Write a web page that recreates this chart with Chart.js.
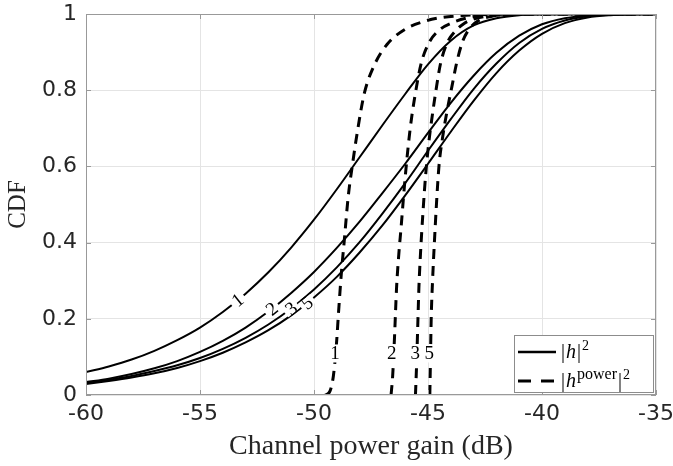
<!DOCTYPE html>
<html>
<head>
<meta charset="utf-8">
<script src="https://cdn.jsdelivr.net/npm/chart.js@4.4.0/dist/chart.umd.min.js"></script>
<style>
  body { margin: 0; background: #fff; }
</style>
</head>
<body>
<canvas id="myChart" width="673" height="466"></canvas>
<script>
// x grid for the solid |h|^2 curves (dB)
const gainDb = [-60, -59, -58, -57, -56, -55, -54, -53, -52, -51, -50, -49, -48,
  -47, -46, -45, -44, -43, -42, -41, -40, -39, -38, -37, -36, -35];

// solid curves
const solid1 = [0.060, 0.075, 0.093, 0.116, 0.144, 0.177, 0.218, 0.266, 0.322, 0.387,
  0.460, 0.540, 0.624, 0.708, 0.790, 0.868, 0.930, 0.970, 0.989, 0.997, 0.9995, 1, 1, 1, 1, 1];
const solid2 = [0.034, 0.043, 0.055, 0.070, 0.089, 0.113, 0.142, 0.177, 0.219, 0.268,
  0.323, 0.386, 0.455, 0.530, 0.607, 0.688, 0.767, 0.838, 0.898, 0.943, 0.973, 0.989, 0.996, 0.999, 1, 1];
const solid3 = [0.032, 0.040, 0.050, 0.063, 0.078, 0.097, 0.121, 0.150, 0.185, 0.227,
  0.277, 0.335, 0.401, 0.476, 0.556, 0.641, 0.724, 0.803, 0.870, 0.924, 0.961, 0.983, 0.994, 0.998, 1, 1];
const solid5 = [0.029, 0.037, 0.046, 0.057, 0.071, 0.089, 0.111, 0.138, 0.170, 0.209,
  0.256, 0.310, 0.374, 0.445, 0.524, 0.607, 0.691, 0.772, 0.845, 0.904, 0.948, 0.976, 0.991, 0.997, 0.999, 1];

// dashed |h^power|^2 curves
const dash1X = [-49.5, -49.3, -49.15, -49.02, -48.92, -48.8, -48.68, -48.5, -48.3, -48.1,
  -47.8, -47.4, -46.8, -46.0, -45.2, -44.5, -43.5, -42, -40, -35];
const dash1Y = [0, 0.01, 0.05, 0.13, 0.22, 0.32, 0.40, 0.52, 0.61, 0.69,
  0.79, 0.86, 0.92, 0.96, 0.98, 0.99, 0.996, 0.999, 1, 1];
const dash2X = [-46.62, -46.55, -46.47, -46.38, -46.28, -46.18, -46.06, -45.94, -45.78, -45.6,
  -45.3, -44.95, -44.5, -43.9, -43.1, -42, -40, -35];
const dash2Y = [0, 0.05, 0.15, 0.28, 0.37, 0.44, 0.53, 0.61, 0.70, 0.775,
  0.87, 0.925, 0.958, 0.978, 0.992, 0.998, 1, 1];
const dash3X = [-45.55, -45.5, -45.45, -45.4, -45.33, -45.22, -45.1, -44.97, -44.82, -44.65,
  -44.45, -44.15, -43.8, -43.4, -42.8, -42, -40, -35];
const dash3Y = [0, 0.08, 0.18, 0.28, 0.37, 0.48, 0.58, 0.66, 0.73, 0.80,
  0.87, 0.925, 0.955, 0.976, 0.99, 0.997, 1, 1];
const dash5X = [-44.92, -44.89, -44.86, -44.8, -44.72, -44.63, -44.52, -44.35, -44.15, -43.95,
  -43.75, -43.5, -43.2, -42.8, -42.2, -41, -40, -35];
const dash5Y = [0, 0.1, 0.2, 0.3, 0.4, 0.5, 0.6, 0.68, 0.75, 0.81,
  0.87, 0.925, 0.96, 0.982, 0.994, 0.999, 1, 1];

const xTicks = [-60, -55, -50, -45, -40, -35];
const yTicks = [0, 0.2, 0.4, 0.6, 0.8, 1];
const yTickLabels = ['0', '0.2', '0.4', '0.6', '0.8', '1'];

// contour-style labels on the curves
const curveNames = ['1', '2', '3', '5'];
const solidLabelX = [-53.35, -51.85, -51.0, -50.3];
const solidLabelY = [0.249, 0.226, 0.227, 0.242];
const dashLabelX = [-49.08, -46.59, -45.56, -44.94];
const dashLabelY = [0.109, 0.109, 0.109, 0.109];

const solidSets = [solid1, solid2, solid3, solid5];
const dashSets = [[dash1X, dash1Y], [dash2X, dash2Y], [dash3X, dash3Y], [dash5X, dash5Y]];

function toPoints(xs, ys) {
  return xs.map((x, i) => ({ x: x, y: ys[i] }));
}

let datasets = [];
solidSets.forEach((s) => {
  datasets.push({
    data: toPoints(gainDb, s),
    borderColor: '#000',
    borderWidth: 2,
    pointRadius: 0,
    showLine: true,
    cubicInterpolationMode: 'monotone',
  });
});
dashSets.forEach((d) => {
  datasets.push({
    data: toPoints(d[0], d[1]),
    borderColor: '#000',
    borderWidth: 3,
    borderDash: [10, 7],
    pointRadius: 0,
    showLine: true,
    cubicInterpolationMode: 'monotone',
  });
});

const serif = 'Liberation Serif';
const axisGrey = '#999999';

const matlabLook = {
  id: 'matlabLook',
  afterDatasetsDraw(chart) {
    const ctx = chart.ctx;
    const a = chart.chartArea;
    const sx = chart.scales.x;
    const sy = chart.scales.y;
    ctx.save();

    // labels on solid curves, rotated along the line
    ctx.font = '19px ' + serif;
    ctx.textAlign = 'center';
    ctx.textBaseline = 'middle';
    curveNames.forEach((name, k) => {
      const lx = solidLabelX[k];
      let i = 0;
      while (i < gainDb.length - 2 && gainDb[i + 1] <= lx) i++;
      const s = solidSets[k];
      const dx = sx.getPixelForValue(gainDb[i + 1]) - sx.getPixelForValue(gainDb[i]);
      const dy = sy.getPixelForValue(s[i + 1]) - sy.getPixelForValue(s[i]);
      const ang = Math.atan2(dy, dx);
      const px = sx.getPixelForValue(lx);
      const py = sy.getPixelForValue(solidLabelY[k]);
      const w = ctx.measureText(name).width;
      ctx.save();
      ctx.translate(px, py);
      ctx.rotate(ang);
      ctx.fillStyle = '#fff';
      ctx.fillRect(-w / 2 - 3, -5, w + 6, 10);
      ctx.fillStyle = '#000';
      ctx.fillText(name, 0, 1);
      ctx.restore();
    });

    // labels on dashed curves, upright
    curveNames.forEach((name, k) => {
      const px = sx.getPixelForValue(dashLabelX[k]);
      const py = sy.getPixelForValue(dashLabelY[k]);
      const w = ctx.measureText(name).width;
      ctx.fillStyle = '#fff';
      ctx.fillRect(px - w / 2 - 1, py - 9, w + 2, 18);
      ctx.fillStyle = '#000';
      ctx.fillText(name, px, py + 1);
    });

    // axes box with inward ticks
    ctx.strokeStyle = axisGrey;
    ctx.lineWidth = 1;
    ctx.setLineDash([]);
    ctx.strokeRect(a.left + 0.5, a.top + 0.5, a.right - a.left - 1, a.bottom - a.top - 1);
    ctx.beginPath();
    xTicks.forEach((v) => {
      const p = Math.round(sx.getPixelForValue(v)) + 0.5;
      ctx.moveTo(p, a.bottom); ctx.lineTo(p, a.bottom - 5);
      ctx.moveTo(p, a.top); ctx.lineTo(p, a.top + 5);
    });
    yTicks.forEach((v) => {
      const p = Math.round(sy.getPixelForValue(v)) + 0.5;
      ctx.moveTo(a.left, p); ctx.lineTo(a.left + 5, p);
      ctx.moveTo(a.right, p); ctx.lineTo(a.right - 5, p);
    });
    ctx.stroke();

    // legend
    const bx = a.right - 142;
    const by = a.bottom - 60;
    const bw = 139;
    const bh = 57;
    ctx.fillStyle = '#fff';
    ctx.fillRect(bx, by, bw, bh);
    ctx.strokeStyle = '#8c8c8c';
    ctx.strokeRect(bx + 0.5, by + 0.5, bw, bh);

    const row1 = by + 17;
    const row2 = by + 46;
    ctx.strokeStyle = '#000';
    ctx.lineWidth = 2.5;
    ctx.beginPath();
    ctx.moveTo(bx + 4, row1); ctx.lineTo(bx + 42, row1);
    ctx.stroke();
    ctx.lineWidth = 3;
    ctx.setLineDash([13, 10]);
    ctx.beginPath();
    ctx.moveTo(bx + 4, row2); ctx.lineTo(bx + 42, row2);
    ctx.stroke();
    ctx.setLineDash([]);

    ctx.fillStyle = '#000';
    ctx.textAlign = 'left';
    ctx.textBaseline = 'alphabetic';
    const put = (txt, font, x, y) => {
      ctx.font = font;
      ctx.fillText(txt, x, y);
      return x + ctx.measureText(txt).width;
    };
    const big = '20px ' + serif;
    const ital = 'italic 20px ' + serif;
    const small = '14px ' + serif;
    let tx = bx + 47;
    tx = put('|', big, tx, row1 + 6);
    tx = put('h', ital, tx + 1, row1 + 6);
    tx = put('|', big, tx + 1, row1 + 6);
    put('2', small, tx + 1, row1 - 2);
    tx = bx + 47;
    tx = put('|', big, tx, row2 + 6);
    tx = put('h', ital, tx + 1, row2 + 6);
    tx = put('power', '16px ' + serif, tx + 1, row2 - 2);
    tx = put('|', big, tx + 1, row2 + 6);
    put('2', small, tx + 1, row2 - 2);

    ctx.restore();
  },
};

new Chart(document.getElementById('myChart'), {
  type: 'scatter',
  data: { datasets: datasets },
  options: {
    responsive: false,
    animation: false,
    layout: { padding: { top: 14, right: 17, left: 0, bottom: 0 } },
    plugins: {
      legend: { display: false },
      tooltip: { enabled: false },
    },
    scales: {
      x: {
        type: 'linear',
        min: -60,
        max: -35,
        afterBuildTicks: (s) => { s.ticks = xTicks.map((v) => ({ value: v })); },
        afterFit: (s) => { s.height = 71; s.paddingLeft = 0; s.paddingRight = 0; },
        grid: { color: '#e4e4e4', drawTicks: false },
        border: { display: false },
        ticks: {
          color: '#262626',
          font: { family: 'DejaVu Sans', size: 22 },
          padding: 6,
          maxRotation: 0,
          autoSkip: false,
        },
        title: {
          display: true,
          text: 'Channel power gain (dB)',
          color: '#262626',
          font: { family: serif, size: 28 },
          padding: { top: 0, bottom: 3 },
        },
      },
      y: {
        type: 'linear',
        min: 0,
        max: 1,
        afterBuildTicks: (s) => { s.ticks = yTicks.map((v) => ({ value: v })); },
        afterFit: (s) => { s.width = 86; s.paddingTop = 0; s.paddingBottom = 0; },
        grid: { color: '#e4e4e4', drawTicks: false },
        border: { display: false },
        ticks: {
          color: '#262626',
          font: { family: 'DejaVu Sans', size: 22 },
          padding: 9,
          callback: (v) => yTickLabels[yTicks.indexOf(v)],
        },
        title: {
          display: true,
          text: 'CDF',
          color: '#262626',
          font: { family: serif, size: 25 },
          padding: { top: 3, bottom: 0 },
        },
      },
    },
  },
  plugins: [matlabLook],
});
</script>
</body>
</html>
